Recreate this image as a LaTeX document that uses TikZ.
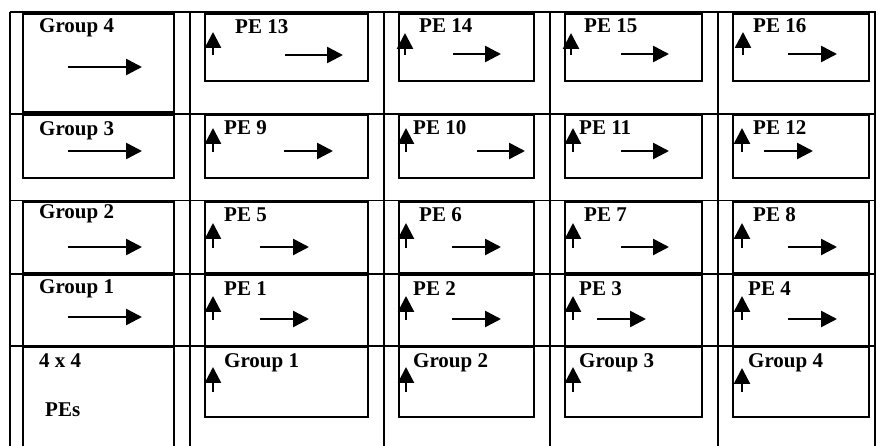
\documentclass[tikz,border=0pt]{standalone}
\usepackage{fontspec}
\setmainfont{Liberation Serif}
\usetikzlibrary{arrows.meta}
\begin{document}
\begin{tikzpicture}[x=1pt,y=-1pt,
  tline/.style={line width=1.7pt},
  boxline/.style={line width=2pt},
  flowarrow/.style={line width=2.5pt,-{Triangle[length=16pt,width=16pt]}},
  lbl/.style={anchor=base west,inner sep=0pt,font=\bfseries\fontsize{21}{25}\selectfont}]
\useasboundingbox (0,0) rectangle (876,446);
% table grid
\foreach \x in {10,190,384,550,718,875} \draw[tline] (\x,12) -- (\x,446);
\foreach \y in {12,114,200.5,274,346} \draw[tline] (10,\y) -- (876,\y);
% left column boxes
\foreach \a/\b in {14/112,115.5/178,202/273,275.5/346} \draw[boxline] (23,\a) rectangle (174,\b);
\draw[boxline] (23,460) -- (23,347.5) -- (174,347.5) -- (174,460);
% PE boxes
\foreach \l/\r in {205/368,399/534,565/702,733/869}
  \foreach \a/\b in {14/81,115.5/178,202/273,275.5/346,347.5/417}
    \draw[boxline] (\l,\a) rectangle (\r,\b);
% labels
\foreach \n/\t/\x/\y in {g4/Group 4/39/33, pe13/PE 13/235/34, pe14/PE 14/419/33, pe15/PE 15/584/33, pe16/PE 16/753/33,
  g3/Group 3/39/136, pe9/PE 9/224/135, pe10/PE 10/413/135, pe11/PE 11/579/135, pe12/PE 12/753/135,
  g2/Group 2/39/219, pe5/PE 5/224/222, pe6/PE 6/419/222, pe7/PE 7/584/222, pe8/PE 8/753/222,
  g1/Group 1/39/294, pe1/PE 1/224/296, pe2/PE 2/413/296, pe3/PE 3/579/296, pe4/PE 4/748/296,
  fxf/4 x 4/39/368, pes/PEs/45/417, bg1/Group 1/224/368, bg2/Group 2/413/368, bg3/Group 3/579/368, bg4/Group 4/748/368}
  \node[lbl] (\n) at (\x,\y) {\t};
% upward arrows
\foreach \x/\tip/\tail in {213/32/55, 405/33/55, 571/33/55, 743/32/55,
  213/128/152, 406/128/152, 573/128/152, 742/128/152,
  213/223/248, 406/223/248, 573/223/248, 742/223/248,
  213/296/320, 406/296/320, 573/296/320, 742/296/320,
  213/367/392, 406/367/392, 573/367/392, 742/368/392}
  \draw[flowarrow] (\x,\tail) -- (\x,\tip);
% rightward arrows
\foreach \a/\b/\y in {68/142/67, 68/142/151, 68/142/247, 68/142/317,
  285/343/55, 453/501/54, 621/669/54, 788/837/54,
  284/333/151, 477/525/151, 621/669/151, 764/813/151,
  260/309/247, 452/501/247, 621/669/247, 788/837/247,
  260/309/319, 452/501/319, 597/646/319, 788/837/319}
  \draw[flowarrow] (\a,\y) -- (\b,\y);
\end{tikzpicture}
\end{document}
